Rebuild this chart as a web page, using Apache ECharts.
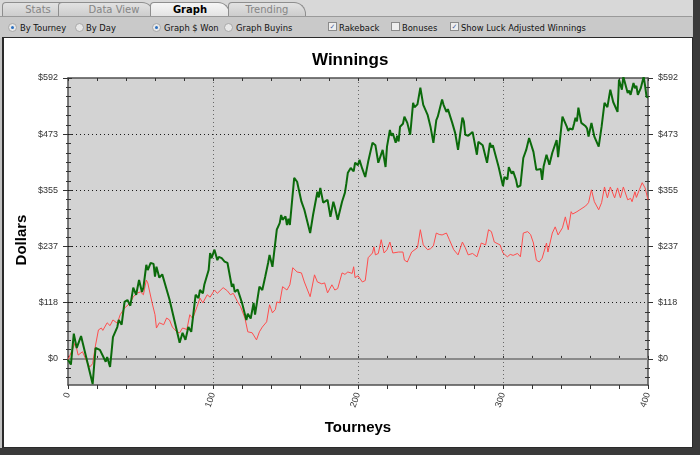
<!DOCTYPE html>
<html><head><meta charset="utf-8">
<script src="https://cdn.jsdelivr.net/npm/echarts@6/dist/echarts.min.js"></script>
<style>
html,body{margin:0;padding:0;width:700px;height:455px;overflow:hidden;background:#c2c2c2;font-family:"DejaVu Sans",sans-serif;}
.tabbar{position:absolute;left:0;top:0;width:700px;height:16px;background:#d8d8d8;}
.tab{position:absolute;top:2px;height:14px;box-sizing:border-box;background:linear-gradient(#e2e2e2,#cdcdcd);border:1px solid #8e8e8e;border-bottom:none;border-radius:4px 12px 0 0;font-size:10px;color:#858585;text-align:center;line-height:13px;}
.tab.active{background:linear-gradient(#f6f6f6,#e2e2e2);color:#000;font-weight:bold;height:15px;}
.toolbar{position:absolute;left:0;top:16px;width:692px;height:21px;background:#c9c9c9;border-top:1px solid #9a9a9a;}
.item{position:absolute;top:6px;font-size:8.4px;color:#111;line-height:10px;white-space:nowrap;}
.radio{position:absolute;top:6px;width:9px;height:9px;border-radius:50%;background:#e8e8e8;border:1px solid #a8a8a8;box-sizing:border-box;}
.radio.on::after{content:"";position:absolute;left:2px;top:2px;width:3px;height:3px;border-radius:50%;background:#2a6fc0;}
.check{position:absolute;top:5px;width:9px;height:9px;background:#eeeeee;border:1px solid #8a8a8a;box-sizing:border-box;font-size:7px;line-height:8px;text-align:center;color:#4a64a0;}
#panel{position:absolute;left:2px;top:37px;width:688px;height:409px;background:#fff;border:1px solid #2a2a2a;border-left:2px solid #2a2a2a;}
.rstrip{position:absolute;left:693px;top:0;width:7px;height:455px;background:#3a3a3a;}
.bstrip{position:absolute;left:0;top:448px;width:700px;height:7px;background:#3a3a3a;}
#chart{position:absolute;left:0;top:0;width:700px;height:455px;}
</style></head>
<body>
<div class="tabbar">
  <div class="tab" style="left:2px;width:72px;">Stats</div>
  <div class="tab" style="left:58px;width:96px;padding-left:16px;">Data View</div>
  <div class="tab active" style="left:150px;width:80px;">Graph</div>
  <div class="tab" style="left:228px;width:78px;">Trending</div>
</div>
<div class="toolbar">
  <div class="radio on" style="left:8px;"></div><div class="item" style="left:20px;">By Tourney</div>
  <div class="radio" style="left:75px;"></div><div class="item" style="left:86px;">By Day</div>
  <div class="radio on" style="left:152px;"></div><div class="item" style="left:164px;">Graph $ Won</div>
  <div class="radio" style="left:224px;"></div><div class="item" style="left:236px;">Graph Buyins</div>
  <div class="check" style="left:328px;">✓</div><div class="item" style="left:339px;">Rakeback</div>
  <div class="check" style="left:391px;"></div><div class="item" style="left:402px;">Bonuses</div>
  <div class="check" style="left:450px;">✓</div><div class="item" style="left:461px;">Show Luck Adjusted Winnings</div>
</div>
<div id="panel"></div>
<div class="rstrip"></div>
<div class="bstrip"></div>
<div id="chart"></div>
<script>
// ---- data ----
const chartTitle = 'Winnings';
const xAxisTitle = 'Tourneys';
const yAxisTitle = 'Dollars';
const xTickLabels = [0, 100, 200, 300, 400];
const yTickLabels = [0, 118.3, 236.6, 354.9, 473.2, 591.5];

const greenTourney = [0,2,4,6,9,17,19,20,22,26,
27,29,30,31,34,35,37,39,41,43,
45,47,49,51,52,54,55,57,59,60,
61,63,65,70,77,79,81,83,85,88,
90,91,93,94,97,98,99,101,103,104,
106,108,110,113,114,115,117,120,123,124,
126,128,129,132,134,136,138,139,141,144,
146,147,148,150,151,152,153,156,158,161,
163,167,169,172,173,174,176,179,181,183,
184,186,189,191,192,193,195,197,198,200,
201,203,205,207,210,212,214,217,219,220,
222,223,224,226,227,228,229,231,232,234,
236,238,239,241,243,245,248,250,252,254,
255,258,259,261,262,265,267,269,272,273,
274,276,279,282,283,286,289,291,292,293,
297,300,301,303,304,306,307,309,310,312,
314,316,317,318,321,323,326,327,328,330,
332,334,337,338,341,342,344,345,346,348,
349,350,351,352,354,357,358,359,361,363,
366,368,370,372,374,376,379,380,382,383,
386,387,388,390,391,392,393,395,397,398,
399,400];
const greenWon = [-2,-12,53,23,48,-53,23,25,19,-6,
4,-17,13,46,67,82,72,120,124,112,
150,135,166,141,150,198,187,202,200,173,
194,171,178,125,34,55,40,67,57,135,
128,145,138,156,187,223,212,230,208,215,
212,205,202,152,158,141,146,118,82,95,
85,118,93,152,145,173,202,219,194,272,
286,303,293,300,282,295,282,381,373,331,
314,265,303,352,340,360,329,335,299,331,
320,293,331,350,370,392,402,395,413,408,
419,400,383,415,455,450,413,440,404,447,
482,470,475,455,470,458,489,495,510,497,
472,539,530,536,571,535,514,489,455,503,
510,546,535,520,526,497,476,440,508,500,
472,470,478,430,457,450,413,455,445,450,
404,364,383,378,404,390,395,377,362,365,
423,440,436,465,436,398,400,377,405,430,
409,434,461,425,510,514,489,480,485,483,
495,508,500,529,497,490,485,468,497,468,
447,489,539,530,567,541,520,588,567,594,
560,565,556,581,570,575,556,570,594,575,
552,550];

const redTourney = [0,5,7,10,13,15,17,19,21,23,
24,27,29,31,34,36,39,43,45,48,
50,52,54,55,58,60,61,63,66,68,
70,72,75,77,79,82,84,86,89,91,
93,96,98,101,103,107,110,112,114,117,
119,122,124,127,128,130,132,134,137,139,
141,143,144,146,148,151,153,155,158,161,
163,167,170,172,175,177,179,182,184,186,
189,191,193,196,197,198,200,203,205,207,
210,211,212,214,216,218,220,222,224,228,
231,232,234,237,241,243,245,248,250,252,
254,256,258,261,263,266,269,272,274,276,
279,282,285,288,290,292,294,298,300,303,
305,307,310,312,314,317,319,321,323,325,
327,330,331,334,336,338,341,343,345,347,
348,351,353,357,359,361,363,366,368,370,
372,374,377,379,381,383,386,388,389,391,
392,394,396,398,400];
const redLuckAdj = [-2,34,8,15,-6,-17,-10,29,61,65,
60,76,70,82,75,93,107,118,131,139,
141,135,166,160,118,93,65,76,72,86,
82,67,57,55,65,62,93,85,110,128,
118,135,130,145,138,150,143,135,138,120,
110,86,57,55,50,40,57,67,78,114,
97,104,120,118,152,145,156,192,183,181,
162,131,177,162,158,160,139,156,145,148,
181,178,183,180,194,171,175,162,165,213,
223,236,219,222,251,223,230,246,223,225,
225,208,204,225,234,272,240,230,232,238,
265,262,261,265,251,230,219,246,234,219,
222,215,244,240,272,268,246,240,223,215,
220,218,222,215,265,268,262,244,208,204,
212,244,225,265,278,261,276,299,272,310,
305,310,314,322,329,356,331,314,329,362,
339,362,339,360,339,362,335,338,331,352,
340,356,371,360,335];

// ---- chart ----
const yMin = -55, yMax = 591.5;
const minorY = [];
for (let i = -2; i < 30; i++) { if (i % 6 !== 0) minorY.push(i * yMax / 30); }

const FONT = '"Liberation Sans", Arial, sans-serif';
const axisColor = '#505050';

function yAx(pos, extra) {
  return Object.assign({
    type: 'value', position: pos, min: yMin, max: yMax,
    axisLine: { show: false }, axisTick: { show: false },
    axisLabel: { show: false }, splitLine: { show: false }
  }, extra);
}
function xAx(pos, extra) {
  return Object.assign({
    type: 'value', position: pos, min: 0, max: 400, interval: 20,
    axisLine: { show: false }, axisTick: { show: false },
    axisLabel: { show: false }, splitLine: { show: false }
  }, extra);
}
const yLabel = {
  show: true, customValues: yTickLabels, formatter: v => '$' + Math.round(v),
  color: '#333', fontSize: 9, fontFamily: FONT, margin: 10
};
const yAxes = [];
['left', 'right'].forEach(pos => {
  yAxes.push(yAx(pos, {
    axisLine: { show: true, onZero: false, lineStyle: { color: axisColor, width: 1.5 } },
    axisTick: { show: true, customValues: yTickLabels, length: 5, lineStyle: { color: '#333' } },
    axisLabel: yLabel
  }));
  yAxes.push(yAx(pos, { axisTick: { show: true, inside: true, customValues: yTickLabels, length: 4, lineStyle: { color: '#333' } } }));
  yAxes.push(yAx(pos, { axisTick: { show: true, customValues: minorY, length: 2, lineStyle: { color: '#333' } } }));
  yAxes.push(yAx(pos, { axisTick: { show: true, inside: true, customValues: minorY, length: 3, lineStyle: { color: '#333' } } }));
});

const xAxes = [
  xAx('bottom', {
    axisLine: { show: true, onZero: false, lineStyle: { color: axisColor, width: 1.5 } },
    axisTick: { show: true, length: 4, lineStyle: { color: '#333' } },
    axisLabel: { show: true, customValues: xTickLabels, rotate: 70, color: '#333', fontSize: 9, fontFamily: FONT, margin: 8 }
  }),
  xAx('bottom', { axisTick: { show: true, inside: true, length: 3, lineStyle: { color: '#333' } } }),
  xAx('top', {
    axisLine: { show: true, onZero: false, lineStyle: { color: axisColor, width: 1.5 } },
    axisTick: { show: true, inside: true, length: 3, lineStyle: { color: '#333' } }
  }),
  xAx('bottom', {
    interval: 100,
    splitLine: { show: true, showMinLine: false, showMaxLine: false, lineStyle: { color: '#666', type: [1, 3], width: 1 } }
  })
];

const zip = (a, b) => a.map((t, i) => [t, b[i]]);

const chart = echarts.init(document.getElementById('chart'), null, { renderer: 'canvas' });
chart.setOption({
  animation: false,
  backgroundColor: 'transparent',
  title: {
    text: chartTitle, left: 307, top: 47,
    textStyle: { fontSize: 17, fontWeight: 'bold', color: '#000', fontFamily: FONT }
  },
  grid: { left: 68, right: 52, top: 78, bottom: 70, show: true, backgroundColor: '#d3d3d3', borderWidth: 0 },
  xAxis: xAxes,
  yAxis: yAxes,
  graphic: [
    { type: 'text', x: 22, y: 240, rotation: Math.PI / 2,
      style: { text: yAxisTitle, font: 'bold 15px ' + FONT, fill: '#000', align: 'center', verticalAlign: 'middle' } },
    { type: 'text', x: 358, y: 428,
      style: { text: xAxisTitle, font: 'bold 15px ' + FONT, fill: '#000', align: 'center', verticalAlign: 'middle' } }
  ],
  series: [
    {
      type: 'line', name: 'grid', data: [], z: 1, silent: true,
      markLine: {
        z: 1, silent: true, animation: false, symbol: ['none', 'none'],
        label: { show: false },
        lineStyle: { color: '#1a1a1a', type: [1, 3], width: 1 },
        emphasis: { disabled: true },
        data: [
          { yAxis: yTickLabels[1] }, { yAxis: yTickLabels[2] }, { yAxis: yTickLabels[3] }, { yAxis: yTickLabels[4] },
          { yAxis: 0, lineStyle: { type: 'solid', color: '#8a8a8a', width: 2 } }
        ]
      }
    },
    {
      type: 'line', name: 'Luck Adjusted', data: zip(redTourney, redLuckAdj), z: 2,
      showSymbol: false, symbol: 'none', lineStyle: { color: '#ff4d4d', width: 1 }, itemStyle: { color: '#ff4d4d' }
    },
    {
      type: 'line', name: 'Winnings', data: zip(greenTourney, greenWon), z: 3,
      showSymbol: false, symbol: 'none', lineStyle: { color: '#0b6a0b', width: 2 }, itemStyle: { color: '#0b6a0b' }
    }
  ]
});
</script>
</body></html>
